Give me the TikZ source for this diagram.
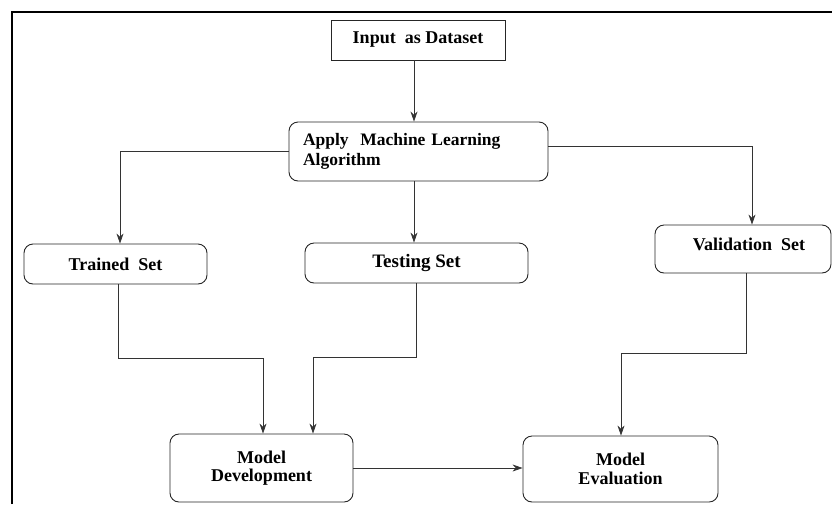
\documentclass[tikz,border=0pt]{standalone}
\usepackage{fontspec}
\setmainfont{Liberation Serif}
\usetikzlibrary{arrows.meta}
\begin{document}
\begin{tikzpicture}[x=1pt,y=-1pt,
  box/.style={draw=black!85,line width=0.9pt,minimum width=#1,inner sep=0pt,align=center,
    font=\fontsize{18}{18.5}\selectfont\bfseries},
  rbox/.style={box=#1,rounded corners=9pt},
  arr/.style={draw=black!80,line width=0.8pt,-{Stealth[length=10pt,width=7pt]}}]
\useasboundingbox (0,0) rectangle (832,504);
\draw[line width=2pt] (12,504) -- (12,12) -- (832,12);
\node[box=174pt,minimum height=40pt] (in) at (418,40) {Input\ \ as Dataset};
\node[rbox=259pt,minimum height=59pt,text width=231pt,align=left,font=\fontsize{17.5}{20}\selectfont\bfseries] (apply) at (418.5,151.5) {Apply\ \ Machine Learning\\Algorithm};
\node[rbox=183pt,minimum height=40pt] (trained) at (115.5,264) {Trained\ \ Set};
\node[rbox=223pt,minimum height=40pt,font=\fontsize{19}{20}\selectfont\bfseries] (testing) at (416.5,263) {Testing Set};
\node[rbox=176pt,minimum height=48pt] (val) at (743,249) {};
\node[font=\fontsize{18}{20}\selectfont\bfseries] (valt) at (749,244.5) {Validation\ \ Set};
\node[rbox=183pt,minimum height=68pt] (dev) at (261.5,468) {Model\\Development};
\node[rbox=195pt,minimum height=66pt] (eval) at (620.5,469) {Model\\Evaluation};
\coordinate (j1) at (263,358);
\coordinate (j2) at (313,357);
\coordinate (j3) at (621,353);
\draw[arr] ([xshift=-4pt]in.south) -- ([xshift=-4pt]in.south |- apply.north);
\draw[arr] (apply.west) -| ([xshift=4.5pt]trained.north);
\draw[arr] ([xshift=-4.5pt]apply.south) -- ([xshift=-4.5pt]apply.south |- testing.north);
\draw[arr] ([yshift=5.5pt]apply.east) -| ([xshift=9pt]val.north);
\draw[arr] ([xshift=2.5pt]trained.south) |- (j1) -- (j1 |- dev.north);
\draw[arr] ([xshift=-0.5pt]testing.south) |- (j2) -- (j2 |- dev.north);
\draw[arr] ([xshift=3pt]val.south) |- (j3) -- (j3 |- eval.north);
\draw[arr] (dev.east) -- (dev.east -| eval.west);
\end{tikzpicture}
\end{document}
